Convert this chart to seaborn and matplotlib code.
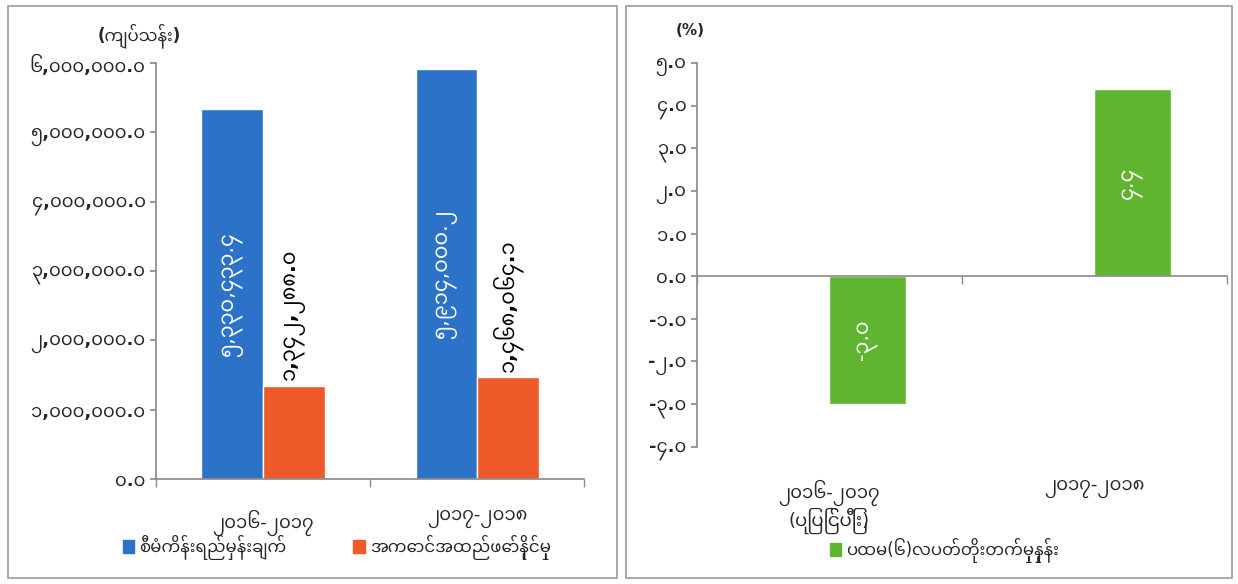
import numpy as np
import pandas as pd
import seaborn as sns
import matplotlib
matplotlib.use("Agg")
import matplotlib.pyplot as plt
from matplotlib import font_manager
from matplotlib.ft2font import FT2Font
from matplotlib.patches import Rectangle, Patch
from matplotlib.ticker import FuncFormatter

# ---- data ----
years_left = ["၂၀၁၆-၂၀၁၇", "၂၀၁၇-၂၀၁၈"]
series_left = ["စီမံကိန်းရည်မှန်းချက်", "အကောင်အထည်ဖော်နိုင်မှု"]
target = [5330433.4, 5914000.2]
actual = [1342288.0, 1468064.1]

years_right = ["၂၀၁၆-၂၀၁၇\n(ပြုပြင်ပြီး)", "၂၀၁၇-၂၀၁၈"]
series_right = "ပထမ(၆)လပတ်တိုးတက်မှုနှုန်း"
growth = [-3.0, 4.4]

unit_left = "(ကျပ်သန်း)"
unit_right = "(%)"

blue, red, green = "#2B72C8", "#EE5A2A", "#60B530"

MM = str.maketrans("0123456789", "၀၁၂၃၄၅၆၇၈၉")


def mm(s):
    return s.translate(MM)


def find_myanmar_font():
    found = []
    for f in font_manager.fontManager.ttflist:
        try:
            if 0x1040 in FT2Font(f.fname).get_charmap():
                found.append(f.name)
        except Exception:
            pass
    for pref in ["Noto Sans Myanmar", "Padauk", "Myanmar Text", "Pyidaungsu"]:
        if pref in found:
            return pref
    return found[0] if found else None


sns.set_theme(style="white")
mm_font = find_myanmar_font()
# DejaVu first so commas and dots stay narrow; Myanmar glyphs fall through
plt.rcParams["font.family"] = ["DejaVu Sans"] + ([mm_font] if mm_font else [])
plt.rcParams["axes.edgecolor"] = "#8c8c8c"

fig = plt.figure(figsize=(12.38, 5.84), dpi=100)
axL = fig.add_axes([0.126, 0.180, 0.346, 0.712])
axR = fig.add_axes([0.563, 0.235, 0.428, 0.657])

# panel frames
for x0, x1 in [(8, 617), (626, 1232)]:
    fig.add_artist(Rectangle((x0 / 1238, 6 / 584), (x1 - x0) / 1238, 572 / 584,
                             transform=fig.transFigure, fill=False,
                             edgecolor="#9a9a9a", linewidth=1.2))

# ---- left chart ----
df_left = pd.DataFrame({
    "year": years_left * 2,
    "value": target + actual,
    "series": [series_left[0]] * 2 + [series_left[1]] * 2,
})
sns.barplot(data=df_left, x="year", y="value", hue="series", hue_order=series_left,
            palette=[blue, red], width=0.575, saturation=1, legend=False, ax=axL)
axL.set_ylim(0, 6000000)
axL.set_xlim(-0.5, 1.5)
axL.set_yticks(np.arange(0, 6000001, 1000000))
axL.yaxis.set_major_formatter(FuncFormatter(lambda v, p: mm(f"{v:,.1f}")))
axL.set_xticks([0, 1])
axL.set_xticklabels(years_left)
axL.set_xticks([-0.5, 0.5, 1.5], minor=True)
axL.tick_params(axis="x", which="major", length=0, pad=22, labelsize=13)
axL.tick_params(axis="x", which="minor", length=6, direction="out", color="#8c8c8c", bottom=True)
axL.tick_params(axis="y", length=4, direction="out", color="#8c8c8c", left=True, labelsize=13)
for lab in axL.get_yticklabels():
    lab.set_fontweight("bold")
axL.set_xlabel("")
axL.set_ylabel("")
sns.despine(ax=axL)

axL.bar_label(axL.containers[0], labels=[mm(f"{v:,.1f}") for v in target],
              label_type="center", rotation=90, color="white", fontsize=15)
axL.bar_label(axL.containers[1], labels=[mm(f"{v:,.1f}") for v in actual],
              label_type="edge", rotation=90, padding=4, color="black",
              fontsize=15, fontweight="bold")
axL.text(-0.04, 1.067, unit_left, transform=axL.transAxes, ha="center", va="center",
         fontsize=12, fontweight="bold")

fig.legend(handles=[Patch(color=blue), Patch(color=red)], labels=series_left,
           loc="center", bbox_to_anchor=(0.272, 0.062), ncol=2, frameon=False,
           handlelength=0.7, handleheight=0.9, handletextpad=0.3, columnspacing=4,
           fontsize=12)

# ---- right chart ----
df_right = pd.DataFrame({
    "year": years_right * 2,
    "value": [np.nan, np.nan] + growth,
    "series": ["gap"] * 2 + [series_right] * 2,
})
sns.barplot(data=df_right, x="year", y="value", hue="series", hue_order=["gap", series_right],
            palette=["white", green], width=0.575, saturation=1, legend=False, ax=axR)
axR.set_ylim(-4, 5)
axR.set_xlim(-0.5, 1.5)
axR.set_yticks(np.arange(-4, 6, 1))
axR.yaxis.set_major_formatter(FuncFormatter(lambda v, p: mm(f"{v:.1f}")))
axR.spines["bottom"].set_position(("data", 0))
axR.set_xticks([0, 1])
axR.set_xticklabels([])
axR.set_xticks([-0.5, 0.5, 1.5], minor=True)
axR.tick_params(axis="x", which="major", length=0)
axR.tick_params(axis="x", which="minor", length=6, direction="out", color="#8c8c8c", bottom=True)
axR.tick_params(axis="y", length=4, direction="out", color="#8c8c8c", left=True, labelsize=13)
for lab in axR.get_yticklabels():
    lab.set_fontweight("bold")
axR.set_xlabel("")
axR.set_ylabel("")
sns.despine(ax=axR)
for i, lab in enumerate(years_right):
    axR.text(i, -0.085, lab, transform=axR.get_xaxis_transform(), ha="center", va="top",
             fontsize=13, linespacing=1.1)

axR.bar_label(axR.containers[-1], labels=[mm(f"{v:.1f}") for v in growth],
              label_type="center", rotation=90, color="white", fontsize=15)
axR.text(-0.013, 1.086, unit_right, transform=axR.transAxes, ha="center", va="center",
         fontsize=11, fontweight="bold")

fig.legend(handles=[Patch(color=green)], labels=[series_right],
           loc="center", bbox_to_anchor=(0.763, 0.057), frameon=False,
           handlelength=0.7, handleheight=0.9, handletextpad=0.3, fontsize=12)

fig.savefig("out.png", dpi=100, facecolor="white")
